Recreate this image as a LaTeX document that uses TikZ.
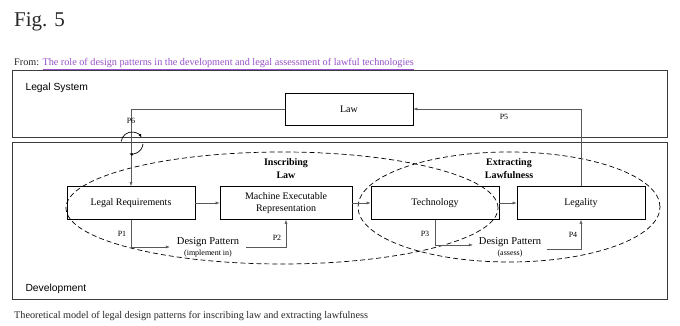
\documentclass[tikz,border=0pt]{standalone}
\usepackage{fontspec}
\setmainfont{Liberation Serif}
\setsansfont{Liberation Sans}
\usepackage{xcolor}
\usetikzlibrary{arrows.meta, positioning}
\definecolor{linkpurple}{RGB}{150,80,200}
\definecolor{textgray}{RGB}{40,40,40}
\definecolor{framegray}{RGB}{60,60,60}

\begin{document}
\begin{tikzpicture}[x=1pt, y=1pt,
    box/.style={draw, line width=0.8pt, minimum height=33pt, font=\fontsize{10}{12}\selectfont, align=center},
    frame/.style={draw=framegray, line width=1pt},
    conn/.style={draw=black!65, line width=0.5pt, -{Latex[length=4pt,width=3pt]}},
    plabel/.style={font=\fontsize{8}{9}\selectfont},
    ellip/.style={draw, dashed, line width=0.7pt, dash pattern=on 5pt off 3pt},
    region/.style={font=\sffamily\fontsize{10.3}{12}\selectfont, anchor=base west}]
    \useasboundingbox[fill=white] (0,0) rectangle (680,326);

    % Header and caption
    \node[anchor=base west, inner sep=0pt, text=textgray] (fig) at (14,299) {\fontsize{21}{24}\selectfont Fig. 5};
    \node[anchor=base west, inner sep=0pt, text=textgray] (from) at (14,260)
        {\fontsize{10.2}{12}\selectfont From: \textcolor{linkpurple}{\underline{The role of design patterns in the development and legal assessment of lawful technologies}}};
    \node[anchor=base west, inner sep=0pt, text=textgray] (caption) at (14,7)
        {\fontsize{10.2}{12}\selectfont Theoretical model of legal design patterns for inscribing law and extracting lawfulness};

    % Frames
    \draw[frame] (12,188) rectangle (667,255);
    \draw[frame] (12,26) rectangle (667,183);
    \node[region] (legalsys) at (22,235) {Legal System};
    \node[region] (devel) at (22,34) {Development};

    % Dashed regions
    \draw[ellip] (282,118) ellipse [x radius=216, y radius=56];
    \draw[ellip] (509,119) ellipse [x radius=151, y radius=55];
    \node[font=\bfseries\fontsize{10}{13}\selectfont, align=center] (inscr) at (286,157) {Inscribing\\Law};
    \node[font=\bfseries\fontsize{10}{13}\selectfont, align=center] (extr) at (509,157) {Extracting\\Lawfulness};

    % Boxes
    \node[box, minimum width=128pt, minimum height=32pt] (law) at (349,217) {Law};
    \node[box, minimum width=128pt] (legalreq) at (131,123) {Legal Requirements};
    \node[box, minimum width=132pt] (mer) at (286,123) {Machine Executable\\Representation};
    \node[box, minimum width=128pt] (tech) at (435,123) {Technology};
    \node[box, minimum width=128pt] (legality) at (581,123) {Legality};

    % Design patterns
    \node[align=center, inner sep=1pt, minimum width=76pt] (dpimpl) at (208,79)
        {\fontsize{10.5}{11}\selectfont Design Pattern\\[-1pt]\fontsize{8}{9}\selectfont (implement in)};
    \node[align=center, inner sep=1pt, minimum width=74pt] (dpassess) at (510,79)
        {\fontsize{10.5}{11}\selectfont Design Pattern\\[-1pt]\fontsize{8}{9}\selectfont (assess)};

    % Connectors
    \draw[conn] (legalreq) -- (mer);
    \draw[conn] (mer) -- (tech);
    \draw[conn] (tech) -- (legality);
    \draw[conn] (law.west) -| (legalreq.north);
    \draw[conn] (legality.north) |- (law.east);
    \draw[conn] (legalreq.south) |- (dpimpl.west);
    \draw[conn] (dpimpl.east) -| (mer.south);
    \draw[conn] (tech.south) |- ([yshift=2pt]dpassess.west);
    \draw[conn] ([yshift=-2pt]dpassess.east) -| (legality.south);

    % Labels
    \node[plabel] (p1) at (122,92) {P1};
    \node[plabel] (p2) at (277,88) {P2};
    \node[plabel] (p3) at (425,92) {P3};
    \node[plabel] (p4) at (573,91) {P4};
    \node[plabel] (p5) at (504,209) {P5};
    \node[plabel] (p6) at (131,205) {P6};

    % Feedback loop P6
    \coordinate (loop) at (132,183);
    \draw[line width=0.7pt, -{Latex[length=3.5pt,width=3pt]}] ([shift={(172:11)}]loop) arc[start angle=172, end angle=30, radius=11];
    \draw[line width=0.7pt, -{Latex[length=3.5pt,width=3pt]}] ([shift={(-5:11)}]loop) arc[start angle=-5, end angle=-105, radius=11];
\end{tikzpicture}
\end{document}
